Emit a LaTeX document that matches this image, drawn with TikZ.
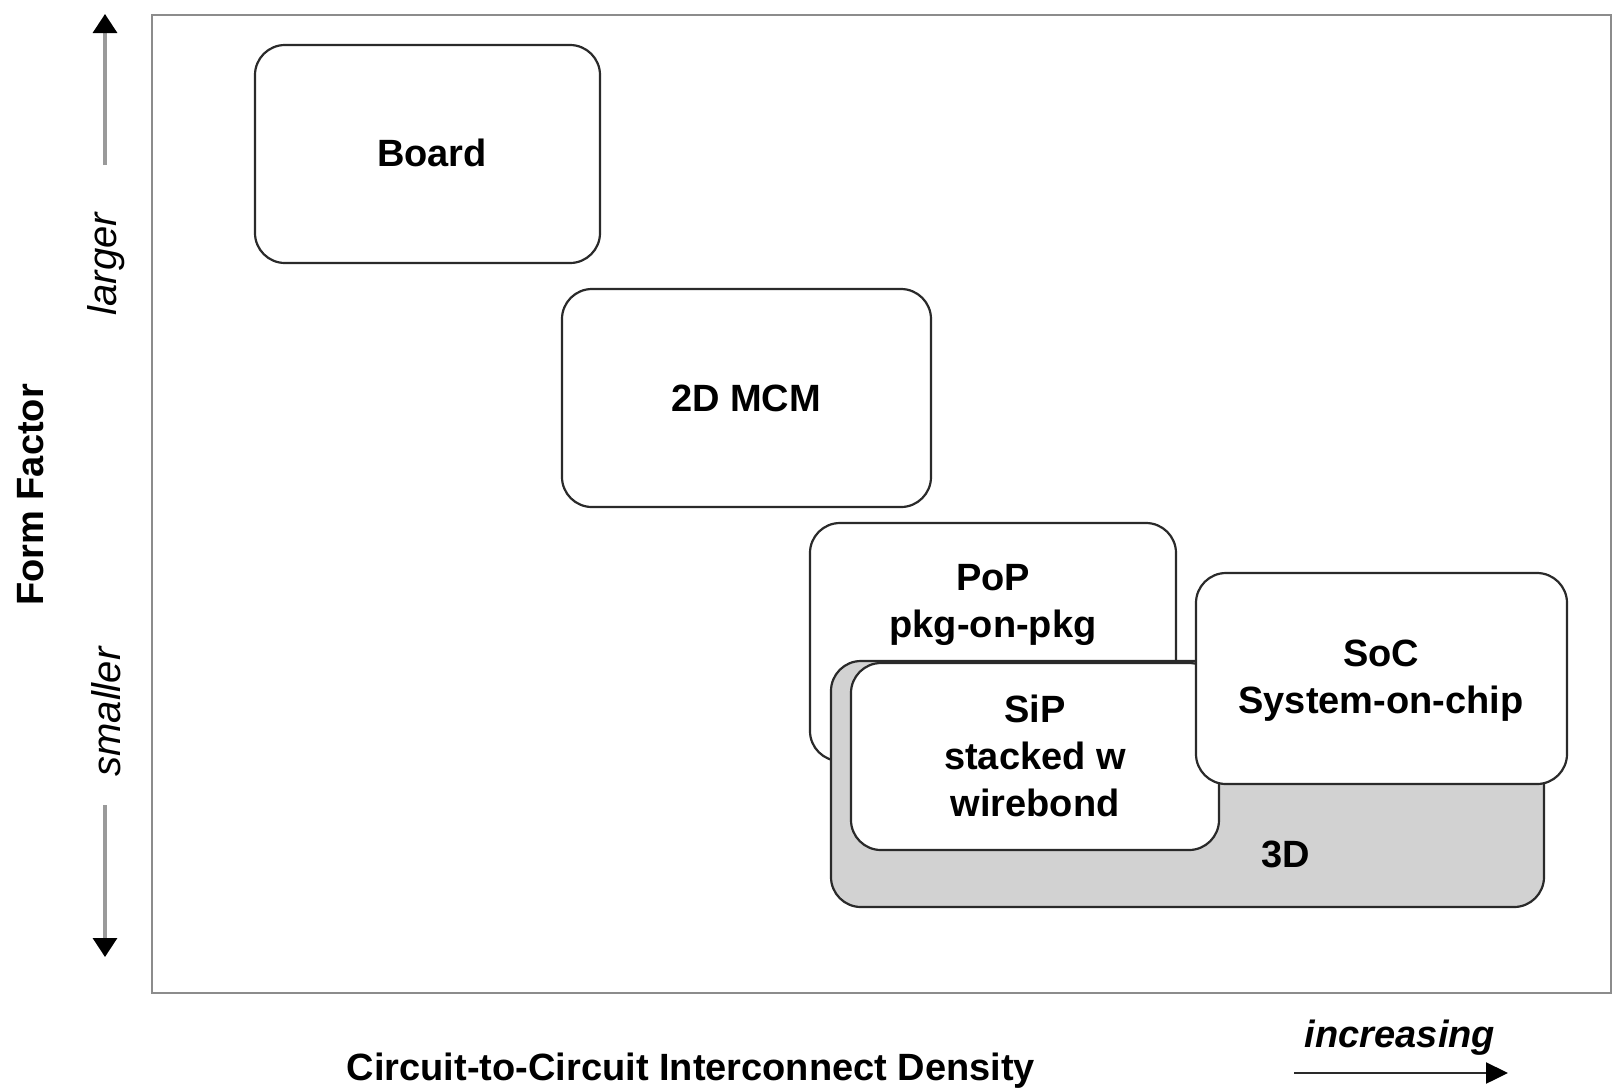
\documentclass[tikz,border=0pt]{standalone}
\usepackage{fontspec}
\setmainfont{Liberation Sans}
\usetikzlibrary{arrows.meta}
\definecolor{framegray}{HTML}{8C8C8C}
\definecolor{boxline}{HTML}{2A2A2A}
\definecolor{threedfill}{HTML}{D2D2D2}
\definecolor{arrgray}{HTML}{9A9A9A}
\tikzset{
  rbox/.style={draw=boxline, line width=1.1pt, rounded corners=15pt, fill=white, inner sep=0pt},
  lbl/.style={font=\fontsize{19}{23.5}\selectfont\bfseries, align=center, inner sep=0pt, text=black},
  side/.style={font=\fontsize{20}{24}\selectfont\itshape, inner sep=0pt},
  tipv/.style={-{Triangle[length=9.5pt,width=12pt,color=black]}},
  tiph/.style={-{Triangle[length=11pt,width=10.5pt,color=black]}},
}
\begin{document}
\begin{tikzpicture}[x=0.5pt,y=-0.5pt]
\useasboundingbox (0,0) rectangle (1613,1089);
% frame
\draw[framegray, line width=1pt] (152,15) rectangle (1611,993);
% boxes
\node[rbox, minimum width=172.5pt, minimum height=109pt] (board) at (427.5,154) {};
\node[lbl] (boardt) at (432,153) {Board};
\node[rbox, minimum width=184.5pt, minimum height=109pt] (mcm) at (746.5,398) {};
\node[lbl] (mcmt) at (746,398) {2D MCM};
\node[rbox, minimum width=183pt, minimum height=119pt] (pop) at (993,642) {};
\node[lbl] (popt) at (993,605) {PoP\\pkg-on-pkg};
\node[rbox, fill=threedfill, minimum width=356.5pt, minimum height=123pt] (three) at (1187.5,784) {};
\node[lbl] (threet) at (1286,854) {3D};
\node[rbox, minimum width=184pt, minimum height=93.5pt] (sip) at (1035,756.5) {};
\node[lbl] (sipt) at (1035,756) {SiP\\stacked w\\wirebond};
\node[rbox, minimum width=185.5pt, minimum height=105.5pt] (soc) at (1381.5,678.5) {};
\node[lbl] (soct) at (1381,681) {SoC\\System-on-chip};
% y axis labels
\node[lbl, rotate=90] (ff) at (31,495) {Form Factor};
\node[side, rotate=90] (larger) at (106,264) {larger};
\node[side, rotate=90] (smaller) at (106,712) {smaller};
\coordinate (uptop) at (105,14);
\coordinate (upbot) at (105,165);
\coordinate (dntop) at (105,805);
\coordinate (dnbot) at (105,957);
\draw[tipv, arrgray, line width=1.6pt] (upbot) -- (uptop);
\draw[tipv, arrgray, line width=1.6pt] (dntop) -- (dnbot);
% x axis labels
\node[lbl] (xlab) at (691,1071) {Circuit-to-Circuit Interconnect Density};
\node[lbl, font=\fontsize{19}{23.5}\selectfont\bfseries\itshape] (incr) at (1400,1038) {increasing};
\coordinate (hl) at (1294,1073);
\coordinate (hr) at (1508,1073);
\draw[tiph, boxline, line width=1.2pt] (hl) -- (hr);
\end{tikzpicture}
\end{document}
